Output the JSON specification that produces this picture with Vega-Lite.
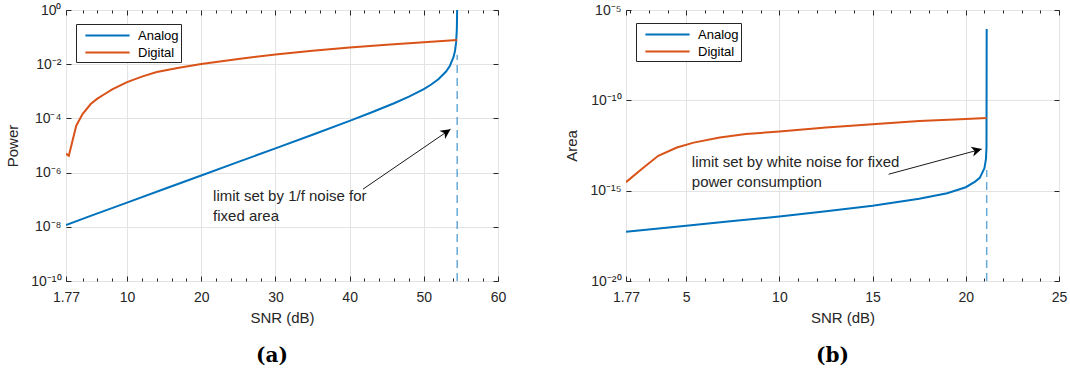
{
  "$schema": "https://vega.github.io/schema/vega-lite/v6.json",
  "padding": {"left": 5, "top": 2, "right": 2, "bottom": 0},
  "spacing": 57,
  "datasets": {
    "power_curves": [
      {"snr": 1.77, "power": 1.17e-8, "series": "Analog"},
      {"snr": 5, "power": 2.47e-8, "series": "Analog"},
      {"snr": 10, "power": 7.82e-8, "series": "Analog"},
      {"snr": 15, "power": 2.47e-7, "series": "Analog"},
      {"snr": 20, "power": 7.82e-7, "series": "Analog"},
      {"snr": 25, "power": 2.48e-6, "series": "Analog"},
      {"snr": 30, "power": 7.85e-6, "series": "Analog"},
      {"snr": 35, "power": 2.50e-5, "series": "Analog"},
      {"snr": 40, "power": 8.11e-5, "series": "Analog"},
      {"snr": 43, "power": 1.68e-4, "series": "Analog"},
      {"snr": 46, "power": 3.62e-4, "series": "Analog"},
      {"snr": 48, "power": 6.35e-4, "series": "Analog"},
      {"snr": 50, "power": 1.21e-3, "series": "Analog"},
      {"snr": 51, "power": 1.78e-3, "series": "Analog"},
      {"snr": 52, "power": 2.83e-3, "series": "Analog"},
      {"snr": 53, "power": 5.35e-3, "series": "Analog"},
      {"snr": 53.5, "power": 8.51e-3, "series": "Analog"},
      {"snr": 54, "power": 1.81e-2, "series": "Analog"},
      {"snr": 54.2, "power": 3.08e-2, "series": "Analog"},
      {"snr": 54.35, "power": 6.25e-2, "series": "Analog"},
      {"snr": 54.45, "power": 0.19, "series": "Analog"},
      {"snr": 54.49, "power": 0.955, "series": "Analog"},
      {"snr": 54.5, "power": 1.5, "series": "Analog"},
      {"snr": 1.77, "power": 5.01e-6, "series": "Digital"},
      {"snr": 2.15, "power": 4.17e-6, "series": "Digital"},
      {"snr": 3.15, "power": 5.37e-5, "series": "Digital"},
      {"snr": 4, "power": 1.45e-4, "series": "Digital"},
      {"snr": 5.1, "power": 3.39e-4, "series": "Digital"},
      {"snr": 6, "power": 5.37e-4, "series": "Digital"},
      {"snr": 7, "power": 7.94e-4, "series": "Digital"},
      {"snr": 8, "power": 1.17e-3, "series": "Digital"},
      {"snr": 10, "power": 2.19e-3, "series": "Digital"},
      {"snr": 12, "power": 3.47e-3, "series": "Digital"},
      {"snr": 14, "power": 5.13e-3, "series": "Digital"},
      {"snr": 17, "power": 7.41e-3, "series": "Digital"},
      {"snr": 20, "power": 1.01e-2, "series": "Digital"},
      {"snr": 25, "power": 1.55e-2, "series": "Digital"},
      {"snr": 30, "power": 2.29e-2, "series": "Digital"},
      {"snr": 35, "power": 3.16e-2, "series": "Digital"},
      {"snr": 40, "power": 4.17e-2, "series": "Digital"},
      {"snr": 45, "power": 5.25e-2, "series": "Digital"},
      {"snr": 50, "power": 6.46e-2, "series": "Digital"},
      {"snr": 54.5, "power": 7.76e-2, "series": "Digital"}
    ],
    "area_curves": [
      {"snr": 1.77, "area": 5.37e-18, "series": "Analog"},
      {"snr": 5, "area": 1.15e-17, "series": "Analog"},
      {"snr": 7.5, "area": 2.09e-17, "series": "Analog"},
      {"snr": 10, "area": 3.72e-17, "series": "Analog"},
      {"snr": 12.5, "area": 7.24e-17, "series": "Analog"},
      {"snr": 15, "area": 1.48e-16, "series": "Analog"},
      {"snr": 17.5, "area": 3.55e-16, "series": "Analog"},
      {"snr": 19, "area": 7.24e-16, "series": "Analog"},
      {"snr": 20, "area": 1.55e-15, "series": "Analog"},
      {"snr": 20.5, "area": 3.16e-15, "series": "Analog"},
      {"snr": 20.75, "area": 5.13e-15, "series": "Analog"},
      {"snr": 21, "area": 1.78e-14, "series": "Analog"},
      {"snr": 21.08, "area": 5.62e-14, "series": "Analog"},
      {"snr": 21.11, "area": 2.51e-13, "series": "Analog"},
      {"snr": 21.12, "area": 8.91e-7, "series": "Analog"},
      {"snr": 1.77, "area": 2.95e-15, "series": "Digital"},
      {"snr": 2.6, "area": 1.55e-14, "series": "Digital"},
      {"snr": 3.5, "area": 8.51e-14, "series": "Digital"},
      {"snr": 4.5, "area": 2.45e-13, "series": "Digital"},
      {"snr": 5.4, "area": 4.57e-13, "series": "Digital"},
      {"snr": 6.8, "area": 8.71e-13, "series": "Digital"},
      {"snr": 8.2, "area": 1.35e-12, "series": "Digital"},
      {"snr": 10, "area": 1.91e-12, "series": "Digital"},
      {"snr": 12.5, "area": 3.16e-12, "series": "Digital"},
      {"snr": 15, "area": 4.79e-12, "series": "Digital"},
      {"snr": 17.5, "area": 7.08e-12, "series": "Digital"},
      {"snr": 20, "area": 9.12e-12, "series": "Digital"},
      {"snr": 21.12, "area": 1.05e-11, "series": "Digital"}
    ],
    "limit_a": [{"snr": 54.5, "from": 1e-10, "to": 0.0224}],
    "limit_b": [{"snr": 21.12, "from": 1e-20, "to": 1.41e-14}],
    "arrow_a": [{"snr0": 41.8, "p0": 2.45e-7, "snr1": 53.6, "p1": 3.98e-5}],
    "arrow_b": [{"snr0": 15.86, "a0": 8.13e-15, "snr1": 20.85, "a1": 2.0e-13}],
    "note_a": [{"snr": 21.6, "power": 1.38e-7, "label": "limit set by 1/f noise for\nfixed area"}],
    "note_b": [{"snr": 5.3, "area": 3.63e-14, "label": "limit set by white noise for fixed\npower consumption"}]
  },
  "hconcat": [
    {
      "width": 432,
      "height": 271,
      "title": {"text": "(a)", "orient": "bottom", "frame": "group", "anchor": "middle", "dx": -10, "offset": 21, "font": "DejaVu Serif", "fontWeight": "bold", "fontSize": 20, "color": "#000000"},
      "layer": [
        {
          "data": {"name": "limit_a"},
          "mark": {"type": "rule", "color": "#0072BD", "opacity": 0.6, "strokeWidth": 1.5, "strokeDash": [8, 5]},
          "encoding": {
            "x": {"field": "snr", "type": "quantitative", "scale": {"domain": [1.77, 60], "nice": false, "zero": false},
                  "axis": {"orient": "bottom", "values": [1.77, 10, 20, 30, 40, 50, 60], "labels": false, "grid": false, "ticks": true, "tickSize": 5, "offset": -5, "title": null}},
            "y": {"field": "from", "type": "quantitative", "scale": {"type": "log", "domain": [1e-10, 1], "nice": false},
                  "axis": {"orient": "left", "values": [1e-10, 1e-8, 1e-6, 1e-4, 1e-2, 1], "labels": false, "grid": false, "ticks": true, "tickSize": 5, "offset": -5, "title": null}},
            "y2": {"field": "to"}
          }
        },
        {
          "data": {"name": "power_curves"},
          "mark": {"type": "line", "strokeWidth": 2, "clip": true},
          "encoding": {
            "x": {"field": "snr", "type": "quantitative", "scale": {"domain": [1.77, 60], "nice": false, "zero": false},
                  "axis": {"orient": "bottom", "values": [1.77, 10, 20, 30, 40, 50, 60], "labelExpr": "datum.value < 2 ? '1.77' : format(datum.value, 'd')", "labelFlush": false, "labelOverlap": false, "grid": true, "ticks": false, "labelPadding": 9, "titlePadding": 6, "title": "SNR (dB)"}},
            "y": {"field": "power", "type": "quantitative", "scale": {"type": "log", "domain": [1e-10, 1], "nice": false},
                  "axis": {"orient": "left", "values": [1e-10, 1e-8, 1e-6, 1e-4, 1e-2, 1], "labelExpr": "'10' + ['⁰','⁻²','⁻⁴','⁻⁶','⁻⁸','⁻¹⁰'][round(-log(datum.value)/LN10/2)]", "labelFlush": false, "labelOverlap": false, "grid": true, "ticks": false, "labelPadding": 5, "titlePadding": 10, "title": "Power"}},
            "color": {"field": "series", "type": "nominal",
                      "scale": {"domain": ["Analog", "Digital"], "range": ["#0072BD", "#D95319"]},
                      "legend": {"title": null, "orient": "none", "legendX": 10, "legendY": 14, "symbolType": "M-2.6,0H2.6", "symbolSize": 289, "symbolStrokeWidth": 2, "symbolOffset": 20, "labelOffset": 21, "padding": 2, "rowPadding": 0}}
          }
        },
        {
          "data": {"name": "arrow_a"},
          "mark": {"type": "rule", "color": "#1a1a1a", "strokeWidth": 1},
          "encoding": {
            "x": {"field": "snr0", "type": "quantitative", "scale": {"domain": [1.77, 60], "nice": false, "zero": false},
                  "axis": {"orient": "top", "values": [1.77, 10, 20, 30, 40, 50, 60], "labels": false, "grid": false, "ticks": true, "tickSize": 5, "offset": -5, "title": null}},
            "y": {"field": "p0", "type": "quantitative", "scale": {"type": "log", "domain": [1e-10, 1], "nice": false},
                  "axis": {"orient": "right", "values": [1e-10, 1e-8, 1e-6, 1e-4, 1e-2, 1], "labels": false, "grid": false, "ticks": true, "tickSize": 5, "offset": -5, "title": null}},
            "x2": {"field": "snr1"},
            "y2": {"field": "p1"}
          }
        },
        {
          "data": {"name": "arrow_a"},
          "mark": {"type": "point", "shape": "M0,0L-0.5,1L0,0.72L0.5,1Z", "size": 400, "filled": true, "color": "#000000", "opacity": 1, "angle": 55.6},
          "encoding": {
            "x": {"field": "snr1", "type": "quantitative", "scale": {"domain": [1.77, 60], "nice": false, "zero": false},
                  "axis": {"orient": "bottom", "values": [4, 6, 8, 12, 14, 16, 18, 22, 24, 26, 28, 32, 34, 36, 38, 42, 44, 46, 48, 52, 54, 56, 58], "labels": false, "grid": false, "ticks": true, "tickSize": 3, "offset": -3, "title": null}},
            "y": {"field": "p1", "type": "quantitative", "scale": {"type": "log", "domain": [1e-10, 1], "nice": false}, "axis": null}
          }
        },
        {
          "data": {"name": "note_a"},
          "mark": {"type": "text", "align": "left", "baseline": "middle", "lineBreak": "\n", "lineHeight": 20, "fontSize": 15, "font": "Liberation Sans", "color": "#262626"},
          "encoding": {
            "x": {"field": "snr", "type": "quantitative", "scale": {"domain": [1.77, 60], "nice": false, "zero": false},
                  "axis": {"orient": "top", "values": [4, 6, 8, 12, 14, 16, 18, 22, 24, 26, 28, 32, 34, 36, 38, 42, 44, 46, 48, 52, 54, 56, 58], "labels": false, "grid": false, "ticks": true, "tickSize": 3, "offset": -3, "title": null}},
            "y": {"field": "power", "type": "quantitative", "scale": {"type": "log", "domain": [1e-10, 1], "nice": false}, "axis": null},
            "text": {"field": "label"}
          }
        }
      ],
      "resolve": {"axis": {"x": "independent", "y": "independent"}}
    },
    {
      "width": 433,
      "height": 271,
      "title": {"text": "(b)", "orient": "bottom", "frame": "group", "anchor": "middle", "dx": -10, "offset": 21, "font": "DejaVu Serif", "fontWeight": "bold", "fontSize": 20, "color": "#000000"},
      "layer": [
        {
          "data": {"name": "limit_b"},
          "mark": {"type": "rule", "color": "#0072BD", "opacity": 0.6, "strokeWidth": 1.5, "strokeDash": [8, 5]},
          "encoding": {
            "x": {"field": "snr", "type": "quantitative", "scale": {"domain": [1.77, 25], "nice": false, "zero": false},
                  "axis": {"orient": "bottom", "values": [1.77, 5, 10, 15, 20, 25], "labels": false, "grid": false, "ticks": true, "tickSize": 5, "offset": -5, "title": null}},
            "y": {"field": "from", "type": "quantitative", "scale": {"type": "log", "domain": [1e-20, 1e-5], "nice": false},
                  "axis": {"orient": "left", "values": [1e-20, 1e-15, 1e-10, 1e-5], "labels": false, "grid": false, "ticks": true, "tickSize": 5, "offset": -5, "title": null}},
            "y2": {"field": "to"}
          }
        },
        {
          "data": {"name": "area_curves"},
          "mark": {"type": "line", "strokeWidth": 2, "clip": true},
          "encoding": {
            "x": {"field": "snr", "type": "quantitative", "scale": {"domain": [1.77, 25], "nice": false, "zero": false},
                  "axis": {"orient": "bottom", "values": [1.77, 5, 10, 15, 20, 25], "labelExpr": "datum.value < 2 ? '1.77' : format(datum.value, 'd')", "labelFlush": false, "labelOverlap": false, "grid": true, "ticks": false, "labelPadding": 9, "titlePadding": 6, "title": "SNR (dB)"}},
            "y": {"field": "area", "type": "quantitative", "scale": {"type": "log", "domain": [1e-20, 1e-5], "nice": false},
                  "axis": {"orient": "left", "values": [1e-20, 1e-15, 1e-10, 1e-5], "labelExpr": "'10' + ['⁻⁵','⁻¹⁰','⁻¹⁵','⁻²⁰'][round(-log(datum.value)/LN10/5) - 1]", "labelFlush": false, "labelOverlap": false, "grid": true, "ticks": false, "labelPadding": 5, "titlePadding": 10, "title": "Area"}},
            "color": {"field": "series", "type": "nominal",
                      "scale": {"domain": ["Analog", "Digital"], "range": ["#0072BD", "#D95319"]},
                      "legend": {"title": null, "orient": "none", "legendX": 10, "legendY": 13, "symbolType": "M-2.6,0H2.6", "symbolSize": 289, "symbolStrokeWidth": 2, "symbolOffset": 20, "labelOffset": 21, "padding": 2, "rowPadding": 0}}
          }
        },
        {
          "data": {"name": "arrow_b"},
          "mark": {"type": "rule", "color": "#1a1a1a", "strokeWidth": 1},
          "encoding": {
            "x": {"field": "snr0", "type": "quantitative", "scale": {"domain": [1.77, 25], "nice": false, "zero": false},
                  "axis": {"orient": "top", "values": [1.77, 5, 10, 15, 20, 25], "labels": false, "grid": false, "ticks": true, "tickSize": 5, "offset": -5, "title": null}},
            "y": {"field": "a0", "type": "quantitative", "scale": {"type": "log", "domain": [1e-20, 1e-5], "nice": false},
                  "axis": {"orient": "right", "values": [1e-20, 1e-15, 1e-10, 1e-5], "labels": false, "grid": false, "ticks": true, "tickSize": 5, "offset": -5, "title": null}},
            "x2": {"field": "snr1"},
            "y2": {"field": "a1"}
          }
        },
        {
          "data": {"name": "arrow_b"},
          "mark": {"type": "point", "shape": "M0,0L-0.5,1L0,0.72L0.5,1Z", "size": 400, "filled": true, "color": "#000000", "opacity": 1, "angle": 75},
          "encoding": {
            "x": {"field": "snr1", "type": "quantitative", "scale": {"domain": [1.77, 25], "nice": false, "zero": false},
                  "axis": {"orient": "bottom", "values": [2, 3, 4, 6, 7, 8, 9, 11, 12, 13, 14, 16, 17, 18, 19, 21, 22, 23, 24], "labels": false, "grid": false, "ticks": true, "tickSize": 3, "offset": -3, "title": null}},
            "y": {"field": "a1", "type": "quantitative", "scale": {"type": "log", "domain": [1e-20, 1e-5], "nice": false}, "axis": null}
          }
        },
        {
          "data": {"name": "note_b"},
          "mark": {"type": "text", "align": "left", "baseline": "middle", "lineBreak": "\n", "lineHeight": 20, "fontSize": 15, "font": "Liberation Sans", "color": "#262626"},
          "encoding": {
            "x": {"field": "snr", "type": "quantitative", "scale": {"domain": [1.77, 25], "nice": false, "zero": false},
                  "axis": {"orient": "top", "values": [2, 3, 4, 6, 7, 8, 9, 11, 12, 13, 14, 16, 17, 18, 19, 21, 22, 23, 24], "labels": false, "grid": false, "ticks": true, "tickSize": 3, "offset": -3, "title": null}},
            "y": {"field": "area", "type": "quantitative", "scale": {"type": "log", "domain": [1e-20, 1e-5], "nice": false}, "axis": null},
            "text": {"field": "label"}
          }
        }
      ],
      "resolve": {"axis": {"x": "independent", "y": "independent"}}
    }
  ],
  "resolve": {"scale": {"color": "independent"}},
  "config": {
    "font": "Liberation Sans",
    "view": {"stroke": "#262626", "strokeWidth": 1},
    "axis": {
      "labelFont": "Liberation Sans", "labelFontSize": 14, "labelColor": "#262626",
      "titleFont": "Liberation Sans", "titleFontSize": 15, "titleFontWeight": "normal", "titleColor": "#262626",
      "gridColor": "#e3e3e3", "gridWidth": 1, "domain": false, "tickColor": "#262626", "tickWidth": 1
    },
    "legend": {
      "labelFont": "Liberation Sans", "labelFontSize": 13, "labelColor": "#000000",
      "strokeColor": "#262626", "fillColor": "#ffffff", "cornerRadius": 0
    }
  }
}
